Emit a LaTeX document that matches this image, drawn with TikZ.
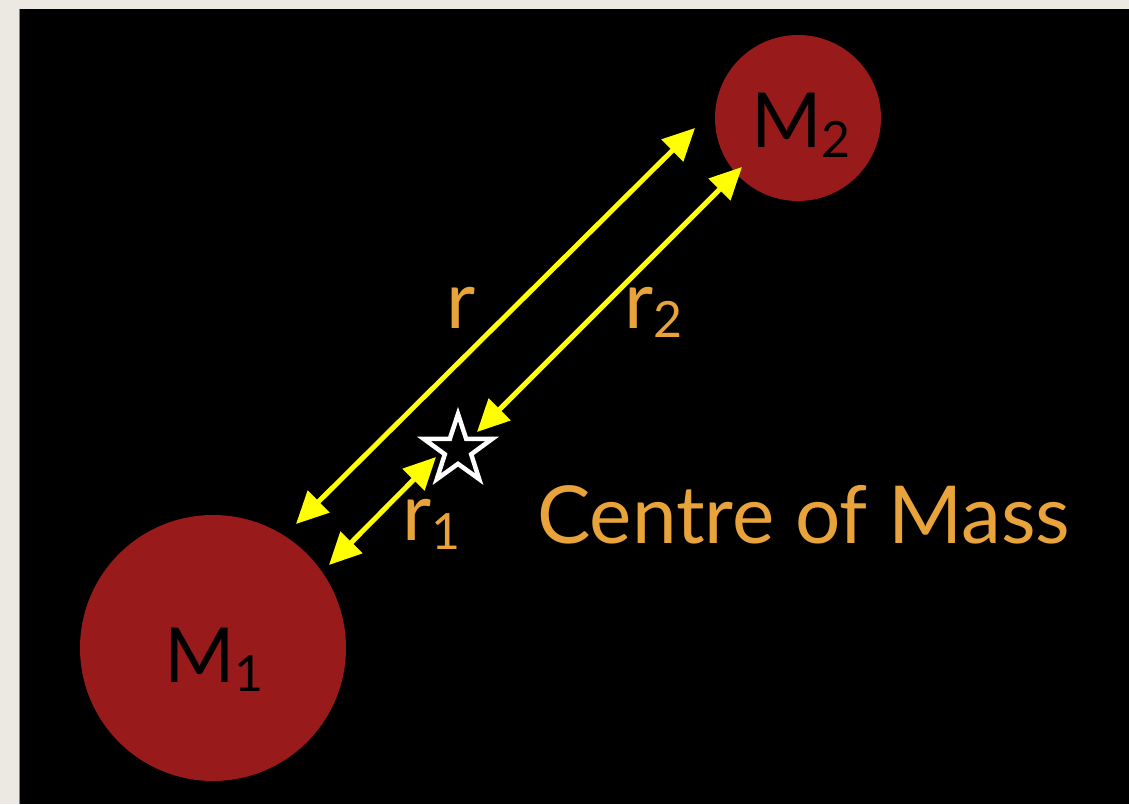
\documentclass[tikz,border=0pt]{standalone}
\usepackage{fontspec}
\setmainfont{Lato}
\usetikzlibrary{arrows.meta,shapes.geometric}
\definecolor{paper}{HTML}{ECE9E3}
\definecolor{massred}{HTML}{991A1A}
\definecolor{labelorange}{HTML}{E8A33A}
\definecolor{arrowyellow}{HTML}{FFFF00}
\newcommand{\lowsub}[1]{\raisebox{-0.12em}{\fontsize{50}{50}\selectfont #1}}
\begin{document}
\begin{tikzpicture}[x=1pt,y=-1pt,
  mass/.style={circle,fill=massred,inner sep=0pt},
  lbl/.style={text=labelorange,inner sep=0pt,font=\fontsize{80}{92}\selectfont},
  dist/.style={draw=arrowyellow,line width=5pt,{Triangle[length=32pt,width=30pt]}-{Triangle[length=32pt,width=30pt]}}]
 \fill[paper] (0,0) rectangle (1129,804);
 \fill[black] (20,9) rectangle (1129,804);
 \draw[gray,line width=1.5pt] (19.5,9)--(19.5,804);
 \node[mass,minimum size=266pt] (m1) at (213,648) {};
 \node[mass,minimum size=166pt] (m2) at (798,118) {};
 \node[anchor=base west,inner sep=0pt,font=\fontsize{76}{84}\selectfont] (m1lbl) at (164,682) {M\lowsub{1}};
 \node[anchor=base west,inner sep=0pt,font=\fontsize{76}{84}\selectfont] (m2lbl) at (751,148) {M\lowsub{2}};
 \node[star,star points=5,star point ratio=2.6,minimum size=72pt,inner sep=0pt,draw=white,fill=black,line width=4.5pt] (com) at (458,450) {};
 \coordinate (r1a) at (329,565);
 \coordinate (r1b) at (436,457);
 \coordinate (r2a) at (477,432);
 \coordinate (r2b) at (742,167);
 \coordinate (ra) at (296,524);
 \coordinate (rb) at (695,128);
 \draw[dist] (ra)--(rb);
 \draw[dist] (r2a)--(r2b);
 \draw[dist] (r1a)--(r1b);
 \node[lbl,anchor=base west] (rlbl) at (446,328) {r};
 \node[lbl,anchor=base west] (r2lbl) at (624,328) {r\lowsub{2}};
 \node[lbl,anchor=base west] (r1lbl) at (402,540) {r\lowsub{1}};
 \node[lbl,anchor=base west] (cmlbl) at (537,543) {Centre of Mass};
\end{tikzpicture}
\end{document}
